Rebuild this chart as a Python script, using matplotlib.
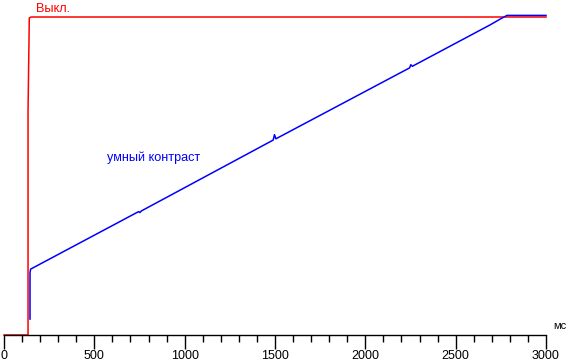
import matplotlib.pyplot as plt

# response curves, time in ms, brightness in % of max
red_ms = [0, 133, 133, 140, 150, 3000]
red_val = [0, 0, 70, 99.7, 100, 100]

blue_ms = [144, 144, 147, 160, 745, 752, 760, 1490, 1497, 1505,
           2245, 2252, 2260, 2690, 2745, 2784, 3000]
blue_val = [5.0, 19.5, 20.7, 21.1, 38.8, 38.5, 39.0, 61.3, 63.0, 61.7,
            84.0, 85.0, 84.5, 97.5, 99.3, 100.5, 100.5]

x_ticks = [0, 500, 1000, 1500, 2000, 2500, 3000]

plt.rcParams['font.family'] = ['Liberation Sans', 'DejaVu Sans']

fig = plt.figure(figsize=(5.69, 3.61), dpi=100)
ax = fig.add_axes([4 / 569, 26 / 361, 542 / 569, 318 / 361])

ax.plot(red_ms, red_val, color='#ff0000', linewidth=1.1, clip_on=False)
ax.plot(blue_ms, blue_val, color='#0000ff', linewidth=1.1, clip_on=False)

ax.set_xlim(0, 3000)
ax.set_ylim(0, 100)

for side in ['top', 'right', 'left']:
    ax.spines[side].set_visible(False)
ax.spines['bottom'].set_linewidth(1.0)
ax.set_yticks([])
ax.set_xticks(x_ticks)
ax.set_xticks(range(0, 3001, 100), minor=True)
ax.tick_params(axis='x', which='major', length=10, width=1, labelsize=9, pad=1)
ax.tick_params(axis='x', which='minor', length=5, width=1)

ax.text(177, 102.6, 'Выкл.', color='#ff0000', fontsize=9.2, va='center', ha='left', clip_on=False)
ax.text(570, 55.7, 'умный контраст', color='#0000ff', fontsize=9.1, va='center', ha='left')
ax.text(3040, 2.8, 'мс', color='black', fontsize=8, va='center', ha='left', clip_on=False)

fig.savefig('out.png', dpi=100)
